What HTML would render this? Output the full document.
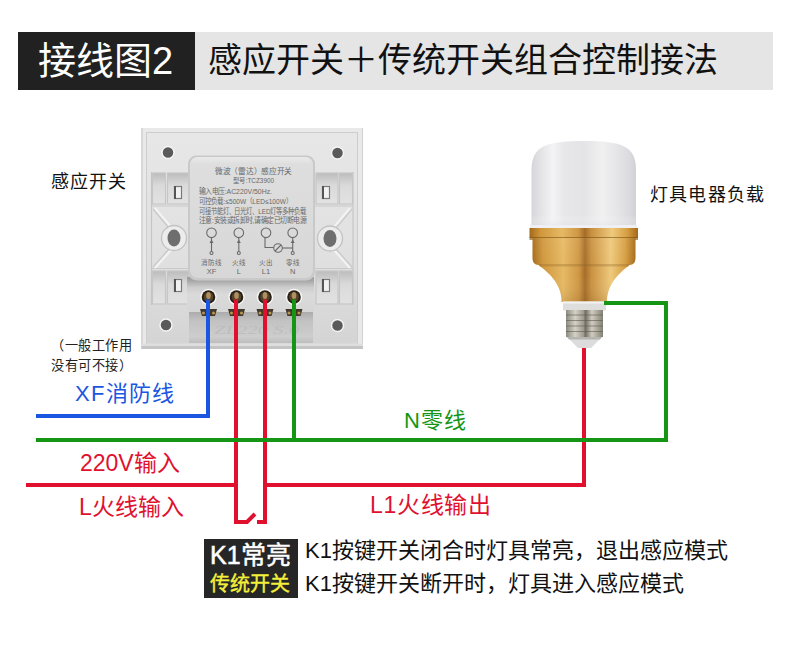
<!DOCTYPE html>
<html lang="zh-CN">
<head>
<meta charset="utf-8">
<style>
html,body{margin:0;padding:0;background:#fff;}
body{width:790px;height:646px;position:relative;overflow:hidden;font-family:"Liberation Sans",sans-serif;}
.abs{position:absolute;white-space:nowrap;line-height:1;}
#hdrL{left:18px;top:32px;width:177px;height:58px;background:#212121;}
#hdrR{left:195px;top:32px;width:578px;height:58px;background:#e5e5e5;}
#t1{left:38px;top:42px;font-size:38px;color:#fff;}
#t2{left:208px;top:43px;font-size:34px;color:#111;}
</style>
</head>
<body>
<div id="hdrL" class="abs"></div>
<div id="hdrR" class="abs"></div>
<div id="t1" class="abs">接线图2</div>
<div id="t2" class="abs">感应开关＋传统开关组合控制接法</div>

<svg class="abs" style="left:0;top:0" width="790" height="646" viewBox="0 0 790 646">
 <defs>
  <linearGradient id="plateG" x1="0" y1="0" x2="0" y2="1">
   <stop offset="0" stop-color="#e7e7e7"/>
   <stop offset="0.6" stop-color="#e0e0e0"/>
   <stop offset="1" stop-color="#d4d4d4"/>
  </linearGradient>
  <linearGradient id="modG" x1="0" y1="0" x2="0" y2="1">
   <stop offset="0" stop-color="#eaeaea"/>
   <stop offset="0.06" stop-color="#dedede"/>
   <stop offset="1" stop-color="#d7d7d7"/>
  </linearGradient>
  <linearGradient id="lowG" x1="0" y1="0" x2="0" y2="1">
   <stop offset="0" stop-color="#a8a8a8"/>
   <stop offset="0.3" stop-color="#c2c2c2"/>
   <stop offset="0.8" stop-color="#cdcdcd"/>
   <stop offset="1" stop-color="#bdbdbd"/>
  </linearGradient>
  <linearGradient id="recG" x1="0" y1="0" x2="0" y2="1">
   <stop offset="0" stop-color="#bcbcbc"/>
   <stop offset="0.4" stop-color="#dadada"/>
   <stop offset="1" stop-color="#e2e2e2"/>
  </linearGradient>
  <linearGradient id="termG" x1="0" y1="0" x2="0" y2="1">
   <stop offset="0" stop-color="#9a9a9a"/>
   <stop offset="0.1" stop-color="#a6a6a6"/>
   <stop offset="0.3" stop-color="#cdcdcd"/>
   <stop offset="0.5" stop-color="#dadada"/>
   <stop offset="1" stop-color="#d6d6d6"/>
  </linearGradient>
 </defs>
 <!-- plate -->
 <rect x="141.5" y="128" width="221.5" height="221" fill="#e9e9e9"/>
 <rect x="146.5" y="132.5" width="211" height="212" fill="url(#plateG)" stroke="#cdcdcd" stroke-width="1"/>
 <line x1="142" y1="128" x2="142" y2="349" stroke="#cfcfcf" stroke-width="1.5"/>
 <line x1="362.5" y1="128" x2="362.5" y2="349" stroke="#d2d2d2" stroke-width="1"/>
 <rect x="141.5" y="343.5" width="221.5" height="2.5" fill="#dedede"/>
 <rect x="141.5" y="346" width="221.5" height="3" fill="#c4c4c4"/>
 <!-- holes -->
 <g fill="#5a5a5a" stroke="#f4f4f4" stroke-width="1.5">
  <circle cx="168" cy="152.5" r="6"/>
  <circle cx="337.5" cy="153" r="6"/>
  <circle cx="166" cy="325" r="6"/>
  <circle cx="337.5" cy="325.5" r="6"/>
 </g>
 <!-- left frame -->
 <g stroke="#c6c6c6" stroke-width="1.2">
  <line x1="151.5" y1="172" x2="151.5" y2="305"/>
  <rect x="152.5" y="173" width="13" height="31" fill="url(#recG)"/>
  <rect x="167.5" y="173" width="22" height="31" fill="url(#recG)"/>
  <rect x="152.5" y="271" width="13" height="33" fill="url(#recG)"/>
  <rect x="167.5" y="271" width="22" height="33" fill="url(#recG)"/>
 </g>
 <g stroke="#c9c9c9" stroke-width="1.2" fill="none">
  <path d="M153 209 L169 228"/>
  <path d="M153 267 L169 249"/>
  <line x1="152" y1="206" x2="190" y2="206"/>
  <line x1="152" y1="268.5" x2="190" y2="268.5"/>
 </g>
 <g stroke="#f3f3f3" stroke-width="2" fill="none">
  <path d="M155 208 L171 227"/>
  <path d="M155 268 L171 250"/>
 </g>
 <g stroke="#c6c6c6" stroke-width="1.2">
  <line x1="353" y1="172" x2="353" y2="305"/>
  <rect x="316" y="173" width="22" height="31" fill="url(#recG)"/>
  <rect x="339.5" y="173" width="13" height="31" fill="url(#recG)"/>
  <rect x="316" y="271" width="22" height="33" fill="url(#recG)"/>
  <rect x="339.5" y="271" width="13" height="33" fill="url(#recG)"/>
 </g>
 <g stroke="#c9c9c9" stroke-width="1.2" fill="none">
  <path d="M352 209 L336 228"/>
  <path d="M352 267 L336 249"/>
  <line x1="314" y1="206" x2="353" y2="206"/>
  <line x1="314" y1="268.5" x2="353" y2="268.5"/>
 </g>
 <g stroke="#f3f3f3" stroke-width="2" fill="none">
  <path d="M350 208 L334 227"/>
  <path d="M350 268 L334 250"/>
 </g>
 <!-- clips -->
 <g fill="#f2f2f2" stroke="#7a7a7a" stroke-width="1.2">
  <rect x="174.5" y="186.5" width="7" height="12"/>
  <rect x="174.5" y="279.5" width="7" height="12"/>
  <rect x="322.5" y="186.5" width="7" height="12"/>
  <rect x="322.5" y="279.5" width="7" height="12"/>
 </g>
 <g fill="#555">
  <rect x="174" y="186" width="2" height="13"/>
  <rect x="174" y="279" width="2" height="13"/>
  <rect x="322" y="186" width="2" height="13"/>
  <rect x="322" y="279" width="2" height="13"/>
 </g>
 <!-- bosses -->
 <circle cx="174" cy="238" r="12.5" fill="#ececec" stroke="#c2c2c2" stroke-width="1.3"/>
 <ellipse cx="174" cy="238" rx="6.5" ry="8.5" fill="#6e6e6e"/>
 <circle cx="330" cy="238.5" r="12.5" fill="#ececec" stroke="#c2c2c2" stroke-width="1.3"/>
 <ellipse cx="330" cy="238.5" rx="6.5" ry="8.5" fill="#6e6e6e"/>
 <!-- lower area below terminals -->
 <rect x="189" y="311" width="124" height="32" fill="url(#lowG)"/>
 <g font-family="Liberation Serif, serif" font-style="italic" font-size="13" fill="#b9b9b9" opacity="0.7">
  <text x="214" y="334" textLength="85" lengthAdjust="spacingAndGlyphs">ZL220  S.0</text>
 </g>
 <!-- terminal block -->
 <rect x="187" y="277" width="127" height="35" fill="url(#termG)"/>
 <!-- module -->
 <rect x="188" y="155.5" width="127" height="125" rx="8.5" fill="#c9c9c9"/>
 <rect x="190" y="157" width="123" height="121" rx="7.5" fill="url(#modG)"/>
</svg>

<svg class="abs" style="left:0;top:0" width="790" height="646" viewBox="0 0 790 646">
 <defs>
  <radialGradient id="scrG" cx="0.5" cy="0.5" r="0.5">
   <stop offset="0" stop-color="#d8bd80"/>
   <stop offset="0.6" stop-color="#a68a52"/>
   <stop offset="1" stop-color="#6a5734"/>
  </radialGradient>
 </defs>
 <g font-family="Liberation Sans, sans-serif" fill="#686868">
  <text x="215" y="173.5" font-size="8" textLength="77" lengthAdjust="spacingAndGlyphs">微波（雷达）感应开关</text>
  <text x="233" y="183" font-size="7" textLength="41" lengthAdjust="spacingAndGlyphs">型号:TCZ3900</text>
  <text x="199" y="194" font-size="7.5" textLength="73" lengthAdjust="spacingAndGlyphs">输入电压:AC220V/50Hz.</text>
  <text x="199" y="203.5" font-size="7.5" textLength="93" lengthAdjust="spacingAndGlyphs">可控负载:≤500W（LED≤100W）</text>
  <text x="199" y="213.5" font-size="7.5" textLength="107" lengthAdjust="spacingAndGlyphs">可接节能灯、日光灯、LED灯等多种负载</text>
  <text x="199" y="223" font-size="7.5" textLength="107" lengthAdjust="spacingAndGlyphs">注意:安装或拆卸时,请确定已切断电源</text>
  <g font-size="6.5" text-anchor="middle">
   <text x="211.5" y="265">消防线</text>
   <text x="238.8" y="265">火线</text>
   <text x="266" y="265">火出</text>
   <text x="292.7" y="265">零线</text>
  </g>
  <g font-size="7.5" text-anchor="middle">
   <text x="211.5" y="273.5">XF</text>
   <text x="238.8" y="273.5">L</text>
   <text x="266" y="273.5">L1</text>
   <text x="292.7" y="273.5">N</text>
  </g>
 </g>
 <g fill="none" stroke="#6a6a6a" stroke-width="1.1">
  <circle cx="211.5" cy="232.8" r="4.8"/>
  <circle cx="238.8" cy="232.8" r="4.8"/>
  <circle cx="266" cy="232.8" r="4.8"/>
  <circle cx="292.7" cy="232.8" r="4.8"/>
  <line x1="211.5" y1="237.6" x2="211.5" y2="251.5"/>
  <line x1="238.8" y1="237.6" x2="238.8" y2="251.5"/>
  <line x1="292.7" y1="237.6" x2="292.7" y2="251.5"/>
  <polyline points="265,237.2 265,247.5 273.5,247.5"/>
  <circle cx="278" cy="248" r="4.3"/>
  <line x1="275" y1="251" x2="281" y2="245"/>
  <line x1="282.3" y1="248" x2="292.7" y2="248"/>
  <circle cx="211.5" cy="253" r="1.5"/>
  <circle cx="238.8" cy="253" r="1.5"/>
  <circle cx="292.7" cy="253" r="1.5"/>
 </g>
 <g fill="#6a6a6a">
  <path d="M209.5 243 L211.5 239.5 L213.5 243Z"/>
  <path d="M236.8 243 L238.8 239.5 L240.8 243Z"/>
  <path d="M290.7 243 L292.7 239.5 L294.7 243Z"/>
 </g>
 <!-- screws -->
 <g>
  <circle cx="208.5" cy="297" r="8.2" fill="#f8f8f8"/>
  <circle cx="208.5" cy="297" r="6.8" fill="#2a2116"/>
  <circle cx="208.5" cy="297" r="4.8" fill="#54432a"/>
  <ellipse cx="208.5" cy="295.5" rx="2.3" ry="3.5" fill="#b09060"/>
  <circle cx="236.5" cy="297" r="8.2" fill="#f8f8f8"/>
  <circle cx="236.5" cy="297" r="6.8" fill="#2a2116"/>
  <circle cx="236.5" cy="297" r="4.8" fill="#54432a"/>
  <ellipse cx="236.5" cy="295.5" rx="2.3" ry="3.5" fill="#b09060"/>
  <circle cx="265" cy="297" r="8.2" fill="#f8f8f8"/>
  <circle cx="265" cy="297" r="6.8" fill="#2a2116"/>
  <circle cx="265" cy="297" r="4.8" fill="#54432a"/>
  <ellipse cx="265" cy="295.5" rx="2.3" ry="3.5" fill="#b09060"/>
  <circle cx="294" cy="297" r="8.2" fill="#f8f8f8"/>
  <circle cx="294" cy="297" r="6.8" fill="#2a2116"/>
  <circle cx="294" cy="297" r="4.8" fill="#54432a"/>
  <ellipse cx="294" cy="295.5" rx="2.3" ry="3.5" fill="#b09060"/>
 </g>
 <g fill="#43392a">
  <path d="M200 309 H217 L215 316 H202Z"/>
  <path d="M228 309 H245 L243 316 H230Z"/>
  <path d="M256.5 309 H273.5 L271.5 316 H258.5Z"/>
  <path d="M285.5 309 H302.5 L300.5 316 H287.5Z"/>
 </g>
 <g fill="#b89550">
  <circle cx="203.5" cy="313" r="1.5"/><circle cx="213.5" cy="313" r="1.5"/>
  <circle cx="231.5" cy="313" r="1.5"/><circle cx="241.5" cy="313" r="1.5"/>
  <circle cx="260" cy="313" r="1.5"/><circle cx="270" cy="313" r="1.5"/>
  <circle cx="289" cy="313" r="1.5"/><circle cx="299" cy="313" r="1.5"/>
 </g>
</svg>

<svg class="abs" style="left:0;top:0" width="790" height="646" viewBox="0 0 790 646">
 <defs>
  <linearGradient id="domeG" x1="0" y1="0" x2="1" y2="0">
   <stop offset="0" stop-color="#d6d6da"/>
   <stop offset="0.08" stop-color="#e2e2e5"/>
   <stop offset="0.2" stop-color="#f3f3f4"/>
   <stop offset="0.32" stop-color="#e7e7e9"/>
   <stop offset="0.5" stop-color="#e4e4e6"/>
   <stop offset="0.68" stop-color="#f0f0f1"/>
   <stop offset="0.8" stop-color="#e7e7ea"/>
   <stop offset="0.93" stop-color="#dcdce0"/>
   <stop offset="1" stop-color="#d0d0d5"/>
  </linearGradient>
  <linearGradient id="domeTop" x1="0" y1="0" x2="0" y2="1">
   <stop offset="0" stop-color="#ffffff" stop-opacity="0"/>
   <stop offset="0.85" stop-color="#ffffff" stop-opacity="0"/>
   <stop offset="1" stop-color="#d8d8dc" stop-opacity="0.6"/>
  </linearGradient>
  <linearGradient id="goldG" x1="0" y1="0" x2="1" y2="0">
   <stop offset="0" stop-color="#a46818"/>
   <stop offset="0.1" stop-color="#cf963c"/>
   <stop offset="0.3" stop-color="#e6b964"/>
   <stop offset="0.45" stop-color="#cf9744"/>
   <stop offset="0.51" stop-color="#a46c2a"/>
   <stop offset="0.57" stop-color="#c99040"/>
   <stop offset="0.76" stop-color="#eec97c"/>
   <stop offset="0.9" stop-color="#d69e42"/>
   <stop offset="1" stop-color="#a46818"/>
  </linearGradient>
  <linearGradient id="goldV" x1="0" y1="0" x2="0" y2="1">
   <stop offset="0" stop-color="#fff3d0" stop-opacity="0.08"/>
   <stop offset="0.6" stop-color="#fff3d0" stop-opacity="0"/>
   <stop offset="1" stop-color="#6a4a10" stop-opacity="0.15"/>
  </linearGradient>
  <linearGradient id="threadG" x1="0" y1="0" x2="1" y2="0">
   <stop offset="0" stop-color="#8c8a80"/>
   <stop offset="0.25" stop-color="#d4d1c6"/>
   <stop offset="0.48" stop-color="#9c988c"/>
   <stop offset="0.52" stop-color="#6f6b60"/>
   <stop offset="0.7" stop-color="#d0ccc0"/>
   <stop offset="1" stop-color="#838074"/>
  </linearGradient>
 </defs>
 <path d="M531.5 228 V170 C531.5 146 546 141 584 141 C622 141 636 146 636 170 V228 Z" fill="url(#domeG)"/>
 <path d="M531.5 228 V170 C531.5 146 546 141 584 141 C622 141 636 146 636 170 V228 Z" fill="url(#domeTop)"/>
 <rect x="530" y="225" width="107" height="3.5" fill="#eef0f6"/>
 <rect x="529.5" y="228" width="108.5" height="10" fill="url(#goldG)"/>
 <rect x="529.5" y="237" width="108.5" height="3" fill="#7a520f" opacity="0.6"/>
 <path d="M532.5 238 H635.5 V258 Q635.5 265 629.5 265 L629.5 265.0 L627.1 266.9 L624.8 268.7 L622.7 270.6 L620.8 272.4 L618.9 274.2 L617.3 276.1 L615.7 277.9 L614.3 279.8 L613.0 281.6 L611.9 283.5 L610.9 285.4 L610.0 287.2 L609.2 289.1 L608.6 290.9 L608.1 292.8 L607.7 294.6 L607.3 296.4 L607.1 298.3 L607.0 300.1 L607.0 302.0 L561.5 302.0 L561.5 300.1 L561.4 298.3 L561.1 296.4 L560.8 294.6 L560.4 292.8 L559.9 290.9 L559.2 289.1 L558.4 287.2 L557.5 285.4 L556.5 283.5 L555.3 281.6 L554.0 279.8 L552.6 277.9 L551.0 276.1 L549.3 274.2 L547.4 272.4 L545.4 270.6 L543.3 268.7 L541.0 266.9 L538.5 265.0 Q532.5 265 532.5 258 Z" fill="url(#goldG)"/>
 <path d="M532.5 238 H635.5 V258 Q635.5 265 629.5 265 L629.5 265.0 L627.1 266.9 L624.8 268.7 L622.7 270.6 L620.8 272.4 L618.9 274.2 L617.3 276.1 L615.7 277.9 L614.3 279.8 L613.0 281.6 L611.9 283.5 L610.9 285.4 L610.0 287.2 L609.2 289.1 L608.6 290.9 L608.1 292.8 L607.7 294.6 L607.3 296.4 L607.1 298.3 L607.0 300.1 L607.0 302.0 L561.5 302.0 L561.5 300.1 L561.4 298.3 L561.1 296.4 L560.8 294.6 L560.4 292.8 L559.9 290.9 L559.2 289.1 L558.4 287.2 L557.5 285.4 L556.5 283.5 L555.3 281.6 L554.0 279.8 L552.6 277.9 L551.0 276.1 L549.3 274.2 L547.4 272.4 L545.4 270.6 L543.3 268.7 L541.0 266.9 L538.5 265.0 Q532.5 265 532.5 258 Z" fill="url(#goldV)"/>
 <rect x="539" y="264" width="90" height="2.5" fill="#8a6224" opacity="0.3"/>
 <rect x="563" y="301.5" width="43" height="9" fill="#dededc"/>
 <rect x="563" y="301.5" width="43" height="2" fill="#f2f2f0"/>
 <rect x="566" y="310" width="37" height="27" fill="url(#threadG)"/>
 <g stroke="#5f5a50" stroke-width="1.2" opacity="0.6">
  <line x1="566" y1="315" x2="603" y2="315"/>
  <line x1="566" y1="320.5" x2="603" y2="320.5"/>
  <line x1="566" y1="326" x2="603" y2="326"/>
  <line x1="566" y1="331.5" x2="603" y2="331.5"/>
 </g>
 <path d="M567 337 H602 L591 348 H578 Z" fill="#dcdcdc"/>
 <path d="M567 337 H602 L600 339.5 H569 Z" fill="#b4b4b0"/>
</svg>

<svg class="abs" style="left:0;top:0" width="790" height="646" viewBox="0 0 790 646">
  <g fill="none" stroke-width="4" stroke-linecap="butt" stroke-linejoin="miter">
    <!-- red -->
    <polyline points="26,485 236,485" stroke="#e0112f"/>
    <polyline points="236,299.5 236,522 247,522 255,514" stroke="#e0112f"/>
    <polyline points="257,522 265,522 265,299.5" stroke="#e0112f"/>
    <polyline points="265,485 584,485 584,348" stroke="#e0112f"/>
    <!-- blue -->
    <polyline points="36,416 208,416 208,299.5" stroke="#1b56e0"/>
    <!-- green -->
    <polyline points="36,440 666,440 666,303 604,303" stroke="#149614"/>
    <line x1="294" y1="299.5" x2="294" y2="440" stroke="#149614"/>
  </g>
</svg>

<div class="abs" style="left:51px;top:173px;font-size:18px;letter-spacing:1.1px;color:#111;">感应开关</div>
<div class="abs" style="left:51px;top:339px;font-size:13.2px;letter-spacing:0.6px;color:#222;">（一般工作用</div>
<div class="abs" style="left:51px;top:359px;font-size:13.2px;letter-spacing:0.6px;color:#222;">没有可不接）</div>
<div class="abs" style="left:75px;top:383px;font-size:22px;letter-spacing:1.3px;color:#1b56e0;">XF消防线</div>
<div class="abs" style="left:650px;top:186px;font-size:18px;letter-spacing:1.2px;color:#111;">灯具电器负载</div>
<div class="abs" style="left:404px;top:410px;font-size:22px;letter-spacing:1px;color:#149614;">N零线</div>
<div class="abs" style="left:80px;top:452px;font-size:23px;color:#e0112f;">220V输入</div>
<div class="abs" style="left:79px;top:496px;font-size:23px;color:#e0112f;">L火线输入</div>
<div class="abs" style="left:370px;top:494px;font-size:23px;letter-spacing:0.7px;color:#e0112f;">L1火线输出</div>

<div class="abs" style="left:204px;top:539px;width:94px;height:59px;background:#262626;"></div>
<div class="abs" style="left:210px;top:543px;font-size:25px;-webkit-text-stroke:0.5px #fff;color:#fff;">K1常亮</div>
<div class="abs" style="left:210px;top:574px;font-size:20px;-webkit-text-stroke:0.4px #f4f03a;color:#f4f03a;">传统开关</div>
<div class="abs" style="left:305px;top:540px;font-size:22px;color:#111;">K1按键开关闭合时灯具常亮，退出感应模式</div>
<div class="abs" style="left:305px;top:573px;font-size:22px;color:#111;">K1按键开关断开时，灯具进入感应模式</div>
</body>
</html>
